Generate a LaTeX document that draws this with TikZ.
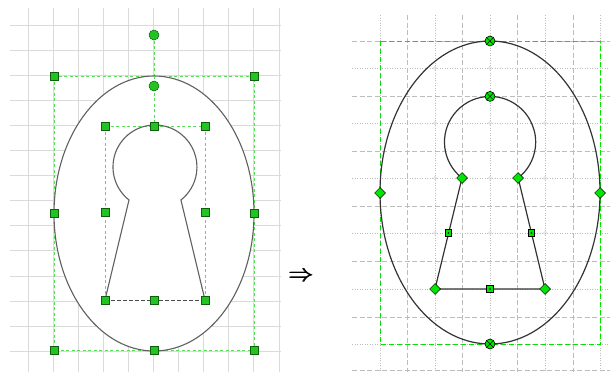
\documentclass[tikz,border=0pt]{standalone}
\usepackage{amsmath}
\usetikzlibrary{shapes.geometric}
\definecolor{lgreen}{HTML}{22C422}
\definecolor{lgreenb}{HTML}{0E5E0E}
\definecolor{ldash}{HTML}{5ADC5A}
\definecolor{rgreen}{HTML}{00E600}
\definecolor{gridl}{HTML}{DADADA}
\definecolor{gridr}{HTML}{BDBDBD}
\tikzset{
  lgrid/.style={gridl, line width=0.9pt},
  rmajor/.style={gridr, line width=0.8pt, dash pattern=on 5pt off 2.5pt},
  rminor/.style={gridr, line width=0.7pt, dash pattern=on 1pt off 1.5pt},
  lbox/.style={ldash, line width=0.9pt, dash pattern=on 3pt off 2.5pt},
  rbox/.style={rgreen, line width=1pt, dash pattern=on 5pt off 3pt},
  lsq/.style={rectangle, fill=lgreen, draw=lgreenb, line width=0.6pt, minimum size=8pt, inner sep=0pt},
  lcirc/.style={circle, fill=lgreen, draw=lgreenb, line width=0.5pt, minimum size=10pt, inner sep=0pt},
  xcirc/.style={circle, fill=rgreen, draw=black, line width=0.6pt, minimum size=10pt, inner sep=0pt,
    path picture={\draw[line width=0.5pt] ([shift={(-3pt,-3pt)}]path picture bounding box.center) -- ([shift={(3pt,3pt)}]path picture bounding box.center)
      ([shift={(-3pt,3pt)}]path picture bounding box.center) -- ([shift={(3pt,-3pt)}]path picture bounding box.center);}},
  dmd/.style={diamond, fill=rgreen, draw=black, line width=0.5pt, minimum size=11pt, inner sep=0pt},
  dsq/.style={rectangle, fill=rgreen, draw=black, line width=0.6pt, minimum size=6.5pt, inner sep=0pt,
    path picture={\fill[black] (path picture bounding box.center) circle (0.8pt);}},
  lshape/.style={draw=gray!75!black, line width=1.1pt},
  rshape/.style={draw=black!80, line width=1.2pt},
}
\begin{document}
\begin{tikzpicture}[x=1pt,y=-1pt]
\useasboundingbox (0,0) rectangle (610,372);
% ---------- left grid ----------
\foreach \i in {0,...,10} \draw[lgrid] ({28+25.1*\i},8) -- ({28+25.1*\i},372);
\foreach \j in {0,...,13} \draw[lgrid] (10,{25+25.1*\j}) -- (281,{25+25.1*\j});
% ---------- right grid ----------
\foreach \x in {407,462,517,573} \draw[rmajor] (\x,15) -- (\x,372);
\foreach \x in {380,435,490,545,600} \draw[rminor] (\x,15) -- (\x,372);
\foreach \y in {41,96,151,206,261,317,370} \draw[rmajor] (352,\y) -- (610,\y);
\foreach \y in {68,123,178,233,289,344} \draw[rminor] (352,\y) -- (610,\y);
\foreach \x in {435,490,545} \foreach \y in {68,123,178,233,289} \draw[gridr!70, line width=0.4pt] (\x,\y) circle (1.5pt);
% ---------- left picture ----------
\draw[lbox] (54,76) rectangle (254,350);
\draw[lbox] (154,35) -- (154,126);
\draw[lshape, fill=white] (154,213.5) ellipse [x radius=100, y radius=137.5];
\draw[lbox] (105,126) -- (105,300) (205,126) -- (205,300) (105,126) -- (205,126) (154,76) -- (154,126);
\draw[lshape] (105,300) -- (129,200) arc[start angle=128.2, end angle=411.8, radius=42] -- (205,300);
\draw[gray!60!black, line width=1pt, dash pattern=on 3.5pt off 2.5pt] (105,300) -- (205,300);
\node[lcirc] (rot) at (154,35) {};
\node[lcirc] (top) at (154,86) {};
\node[lsq] (o1) at (54,76) {};
\node[lsq] (o2) at (254,76) {};
\node[lsq] (o3) at (54,213) {};
\node[lsq] (o4) at (254,213) {};
\node[lsq] (o5) at (54,350) {};
\node[lsq] (o6) at (154,350) {};
\node[lsq] (o7) at (254,350) {};
\node[lsq] (i1) at (105,126) {};
\node[lsq] (i2) at (154,126) {};
\node[lsq] (i3) at (205,126) {};
\node[lsq] (i4) at (105,212) {};
\node[lsq] (i5) at (205,212) {};
\node[lsq] (i6) at (105,300) {};
\node[lsq] (i7) at (154,300) {};
\node[lsq] (i8) at (205,300) {};
% ---------- arrow ----------
\node[inner sep=0pt] (arr) at (301.5,277) {\fontsize{33}{33}\selectfont$\pmb{\Rightarrow}$};
% ---------- right picture ----------
\draw[rbox] (380,41) rectangle (600,344);
\draw[rshape] (490,192.5) ellipse [x radius=110, y radius=151.5];
\coordinate (jl) at (462,178);
\coordinate (bl) at (435,289);
\coordinate (br) at (545,289);
\draw[rshape, line join=round] (bl) -- (jl) arc[start angle=128, end angle=412, radius=45.6] -- (br) -- cycle;
\node[xcirc] (x1) at (490,41) {};
\node[xcirc] (x2) at (490,96.4) {};
\node[xcirc] (x3) at (490,344) {};
\node[dmd] (d1) at (380,193) {};
\node[dmd] (d2) at (600,193) {};
\node[dmd] (d3) at (jl) {};
\node[dmd] (d4) at (518,178) {};
\node[dmd] (d5) at (bl) {};
\node[dmd] (d6) at (br) {};
\node[dsq] (s1) at (448.5,233) {};
\node[dsq] (s2) at (531.5,233) {};
\node[dsq] (s3) at (490,289) {};
\end{tikzpicture}
\end{document}
